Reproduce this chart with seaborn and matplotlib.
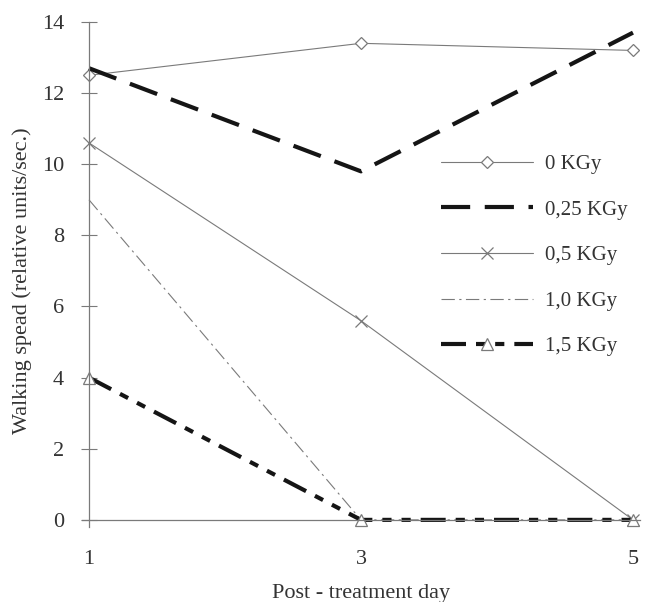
import matplotlib
matplotlib.use("Agg")
import matplotlib.pyplot as plt
import seaborn as sns

# data
days = [1, 3, 5]
dose_labels = ["0 KGy", "0,25 KGy", "0,5 KGy", "1,0 KGy", "1,5 KGy"]
speed_0 = [12.5, 13.4, 13.2]
speed_025 = [12.7, 9.8, 13.7]
speed_05 = [10.6, 5.6, 0.0]
speed_10 = [9.0, 0.0, 0.0]
speed_15 = [4.0, 0.0, 0.0]
y_ticks = [0, 2, 4, 6, 8, 10, 12, 14]
x_ticks = [1, 3, 5]

sns.set_style("white")
plt.rcParams["font.family"] = ["Liberation Serif", "DejaVu Serif"]

fig = plt.figure(figsize=(6.45, 6.02), dpi=100)
ax = fig.add_axes([0.1274, 0.1246, 0.8645, 0.8389])

gray = "#7a7a7a"
black = "#151515"

sns.lineplot(x=days, y=speed_0, ax=ax, color=gray, lw=0.8, marker="D",
             markersize=6, markerfacecolor="white", markeredgecolor=gray,
             markeredgewidth=0.9, label=dose_labels[0])
sns.lineplot(x=days, y=speed_025, ax=ax, color=black, lw=3.0,
             linestyle=(0, (7, 3.5)), label=dose_labels[1])
sns.lineplot(x=days, y=speed_05, ax=ax, color=gray, lw=0.8, marker="x",
             markersize=9, markeredgecolor=gray, markeredgewidth=0.9,
             label=dose_labels[2])
sns.lineplot(x=days, y=speed_10, ax=ax, color=gray, lw=0.8,
             linestyle=(0, (12, 4, 2, 4)), label=dose_labels[3])
sns.lineplot(x=days, y=speed_15, ax=ax, color=black, lw=3.0,
             linestyle=(0, (6, 2.4, 2.2, 2.4, 2.2, 2.4)), marker="^",
             markersize=9, markerfacecolor="white", markeredgecolor=gray,
             markeredgewidth=0.9, label=dose_labels[4])

ax.set_xlim(0.95, 5.05)
ax.set_ylim(-0.2, 14)
ax.set_xticks(x_ticks)
ax.set_yticks(y_ticks)
ax.set_xticklabels([str(d) for d in x_ticks])
ax.set_yticklabels([str(v) for v in y_ticks])

for side in ["top", "right"]:
    ax.spines[side].set_visible(False)
ax.spines["left"].set_position(("data", 1))
ax.spines["bottom"].set_position(("data", 0))
ax.spines["left"].set_color(gray)
ax.spines["bottom"].set_color(gray)
ax.spines["left"].set_linewidth(0.9)
ax.spines["bottom"].set_linewidth(0.9)

ax.tick_params(axis="y", direction="inout", length=12, width=0.8,
               color=gray, labelsize=16, labelcolor="#333333", pad=12, left=True)
ax.tick_params(axis="x", length=0, labelsize=16, labelcolor="#333333", pad=22)

ax.set_xlabel("Post - treatment day", fontsize=16, color="#333333")
ax.set_ylabel("Walking spead (relative units/sec.)", fontsize=16,
              color="#333333")
ax.xaxis.label.set_va("center")
ax.yaxis.label.set_va("center")
ax.xaxis.set_label_coords(0.50, -0.131)
ax.yaxis.set_label_coords(-0.108, 0.487)

leg = ax.legend(loc="upper left", bbox_to_anchor=(0.61, 0.775), frameon=False,
                fontsize=15, handlelength=4.4, labelspacing=1.25,
                handletextpad=0.6, labelcolor="#333333")

fig.savefig("out.png", dpi=100)
